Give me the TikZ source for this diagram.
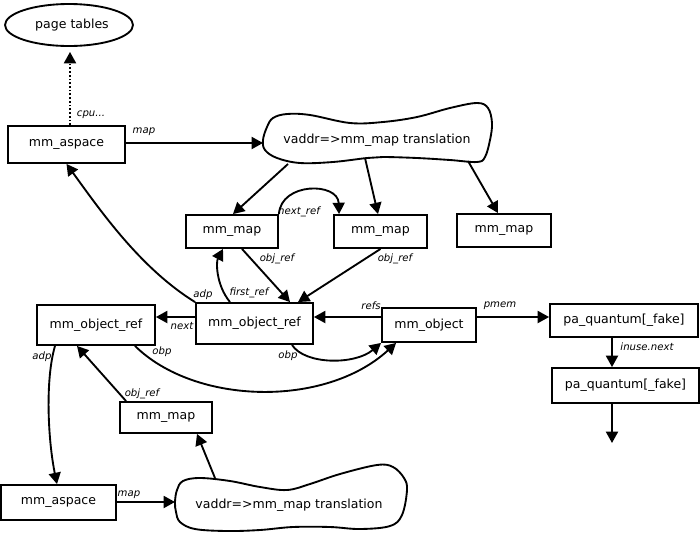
\documentclass[tikz,border=0pt]{standalone}
\usepackage{fontspec}
\setmainfont{DejaVu Sans}
\usetikzlibrary{arrows.meta,calc,shapes.geometric}
\begin{document}
\begin{tikzpicture}[x=0.75pt,y=-0.75pt,
  box/.style={draw,line width=1.4pt,inner sep=0pt,font=\fontsize{9.4}{11}\selectfont},
  lab/.style={inner sep=0pt,font=\fontsize{7.6}{9}\selectfont\itshape},
  conn/.style={line width=1.4pt,-{Triangle[length=8.5pt,width=9pt]}},
  cloudline/.style={line width=1.4pt},
  txt/.style={inner sep=0pt,font=\fontsize{9.4}{11}\selectfont}]
\useasboundingbox (0,0) rectangle (700,533);
% nodes
\node[box,ellipse,minimum width=96pt,minimum height=31.5pt] (pe) at (69,25) {};
\node[txt] (pet) at (72,25) {page tables};
\node[box,minimum width=87.75pt,minimum height=27.75pt] (asp1) at (66.5,144.5) {mm\_aspace};
\node[box,minimum width=69pt,minimum height=24.75pt] (mapA) at (232,231.5) {mm\_map};
\node[box,minimum width=69.75pt,minimum height=24.75pt] (mapB) at (380.5,231.5) {mm\_map};
\node[box,minimum width=70.5pt,minimum height=24.75pt] (mapC) at (504,230.5) {mm\_map};
\node[box,minimum width=87.75pt,minimum height=30.75pt] (oref) at (254.5,323.5) {mm\_object\_ref};
\node[box,minimum width=70.5pt,minimum height=25.5pt] (obj) at (429,325) {mm\_object};
\node[box,minimum width=111pt,minimum height=24.75pt] (pq1) at (624,320.5) {pa\_quantum[\_fake]};
\node[box,minimum width=110.25pt,minimum height=26.25pt] (pq2) at (625.5,385.5) {pa\_quantum[\_fake]};
\node[box,minimum width=88.5pt,minimum height=30pt] (oref2) at (96,325) {mm\_object\_ref};
\node[box,minimum width=69pt,minimum height=23.25pt] (map2) at (166,417.5) {mm\_map};
\node[box,minimum width=86.25pt,minimum height=26.25pt] (asp2) at (58.5,502.5) {mm\_aspace};
% clouds
\draw[cloudline] plot[smooth cycle,tension=0.6] coordinates {(263,140) (267,127) (273,118) (287,114) (310,115) (350,123) (383,122) (417,117) (450,108) (477,103) (488,108) (492,123) (490,140) (485,157) (477,162) (450,160) (417,158) (383,157) (367,158) (333,162) (300,163) (277,158) (265,150)};
\node[txt] (cl1) at (377,140) {vaddr=>mm\_map translation};
\draw[cloudline] plot[smooth cycle,tension=0.6] coordinates {(175,502) (177,490) (183,481) (200,478) (230,481) (260,487) (287,490) (310,484) (340,474) (377,465) (393,467) (404,478) (407,490) (402,515) (390,526) (360,529) (330,527) (293,527) (260,530) (227,531) (195,529) (180,522) (176,512)};
\node[txt] (cl2) at (289,505) {vaddr=>mm\_map translation};
% cloud anchor coordinates
\coordinate (c1in) at (263,143);
\coordinate (c1a) at (288,164);
\coordinate (c1b) at (365,158);
\coordinate (c1c) at (468,161);
\coordinate (c2in) at (175,502);
\coordinate (c2top) at (215,478);
\coordinate (pqend) at (612,443);
% connectors
\draw[conn,dash pattern=on 1.3pt off 1.5pt] ($(asp1.north)+(3.5,0)$) -- ($(pe.south)+(1,5)$);
\draw[conn] ($(asp1.east)+(0,-1.5)$) -- (c1in);
\draw[conn] (c1a) -- ($(mapA.north)+(1,0)$);
\draw[conn] (c1b) -- ($(mapB.north)+(-2.5,0)$);
\draw[conn] (c1c) -- ($(mapC.north)+(-6,0)$);
\draw[conn] (mapA.north east) .. controls (281,182) and (338,182) .. ($(mapB.north west)+(6,0)$);
\draw[conn] ($(mapA.south)+(10,0)$) -- ($(oref.north)+(35.5,0)$);
\draw[conn] (mapB.south) -- ($(oref.north)+(43.5,0)$);
\draw[conn] ($(oref.north)+(-24.5,0)$) .. controls (216,285) and (216,262) .. ($(mapA.south)+(-9,0)$);
\draw[conn] (oref.north west) .. controls (140,268) and (100,210) .. (asp1.south);
\draw[conn] ($(obj.west)+(0,-8)$) -- ($(oref.east)+(0,-6.5)$);
\draw[conn] ($(obj.east)+(0,-8)$) -- ($(pq1.west)+(0,-3.5)$);
\draw[conn] ($(pq1.south)+(-12,0)$) -- ($(pq2.north)+(-13.5,0)$);
\draw[conn] ($(pq2.south)+(-13.5,0)$) -- (pqend);
\draw[conn] ($(oref.west)+(0,-6.5)$) -- ($(oref2.east)+(0,-8)$);
\draw[conn] ($(oref.south)+(37.5,0)$) .. controls (305,365) and (355,365) .. (obj.south west);
\draw[conn] ($(oref2.south)+(39,0)$) .. controls (195,405) and (325,408) .. ($(obj.south west)+(15,0)$);
\draw[conn] ($(map2.north west)+(7,0)$) -- ($(oref2.south)+(-19,0)$);
\draw[conn] ($(oref2.south)+(-41,0)$) .. controls (45,380) and (48,440) .. ($(asp2.north)+(-1.5,0)$);
\draw[conn] ($(asp2.east)+(0,-0.5)$) -- (c2in);
\draw[conn] (c2top) -- ($(map2.south)+(31,0)$);
% labels
\node[lab] (l1) at (91,115) {cpu...};
\node[lab] (l2) at (144,132) {map};
\node[lab] (l3) at (299,212) {next\_ref};
\node[lab] (l4) at (277,259) {obj\_ref};
\node[lab] (l5) at (395,259) {obj\_ref};
\node[lab] (l6) at (249,293) {first\_ref};
\node[lab] (l7) at (203,295) {adp};
\node[lab] (l8) at (371,306) {refs};
\node[lab] (l9) at (182,326) {next};
\node[lab] (l10) at (288,356) {obp};
\node[lab] (l11) at (162,352) {obp};
\node[lab] (l12) at (500,306) {pmem};
\node[lab] (l13) at (647,347) {inuse.next};
\node[lab] (l14) at (42,357) {adp};
\node[lab] (l15) at (142,394) {obj\_ref};
\node[lab] (l16) at (129,495) {map};
\end{tikzpicture}
\end{document}
